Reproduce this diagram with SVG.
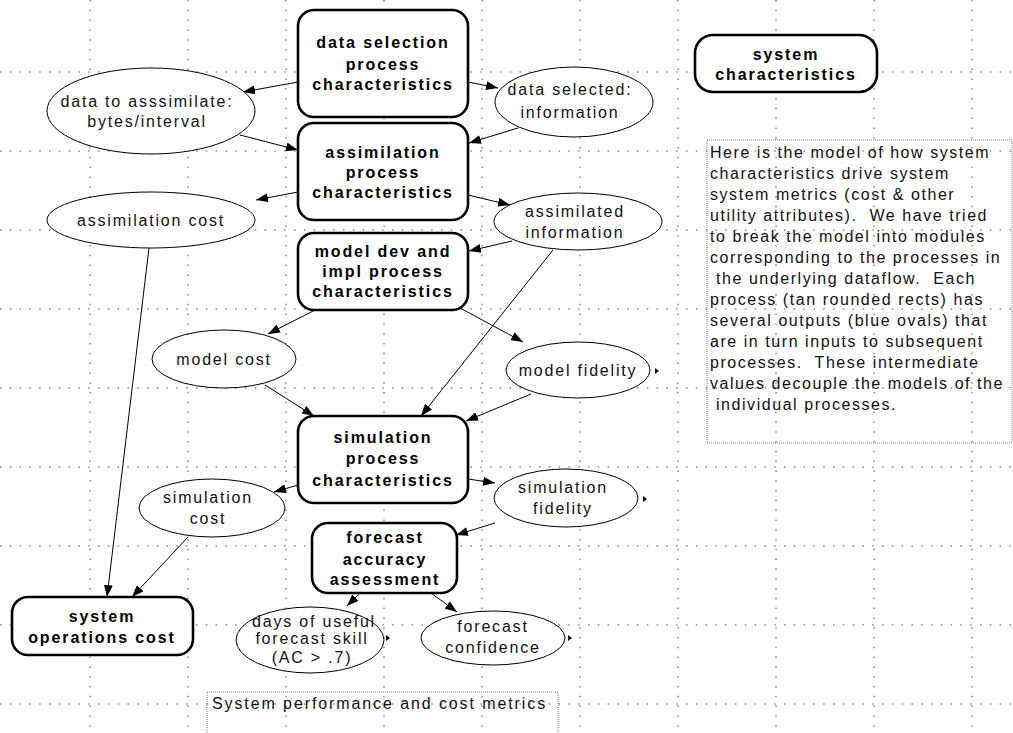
<svg xmlns="http://www.w3.org/2000/svg" width="1013" height="733" viewBox="0 0 1013 733">
<style>
.grid line{stroke:#8a8a8a;stroke-width:1.5;stroke-dasharray:1.5 8.3}
.proc rect{fill:#fff;stroke:#000;stroke-width:2.6}
.proc text{font-family:"Liberation Sans",Arial,sans-serif;font-weight:bold;font-size:16px;letter-spacing:1.9px;text-anchor:middle;fill:#000}
.oval ellipse{fill:#fff;stroke:#000;stroke-width:1}
.oval text{font-family:"Liberation Sans",Arial,sans-serif;font-size:16px;letter-spacing:1.8px;text-anchor:middle;fill:#111}
.oval polygon{fill:#000}
.note rect{fill:none;stroke:#777;stroke-width:1;stroke-dasharray:1 1}
.note text{font-family:"Liberation Sans",Arial,sans-serif;font-size:16px;letter-spacing:1.55px;fill:#111;white-space:pre}
.conn line{stroke:#000;stroke-width:1;marker-end:url(#arr)}
</style>
<defs>
<marker id="arr" markerUnits="userSpaceOnUse" markerWidth="13" markerHeight="9" refX="12" refY="4.5" orient="auto">
<path d="M0,0 L12,4.5 L0,9 z" fill="#000"/>
</marker>
</defs>
<rect width="1013" height="733" fill="#fff"/>
<g class="grid">
<line x1="90" y1="0" x2="90" y2="733"/>
<line x1="188" y1="0" x2="188" y2="733"/>
<line x1="286" y1="0" x2="286" y2="733"/>
<line x1="384" y1="0" x2="384" y2="733"/>
<line x1="482" y1="0" x2="482" y2="733"/>
<line x1="580" y1="0" x2="580" y2="733"/>
<line x1="678" y1="0" x2="678" y2="733"/>
<line x1="776" y1="0" x2="776" y2="733"/>
<line x1="874" y1="0" x2="874" y2="733"/>
<line x1="972" y1="0" x2="972" y2="733"/>
<line x1="0" y1="72" x2="1013" y2="72"/>
<line x1="0" y1="151" x2="1013" y2="151"/>
<line x1="0" y1="230" x2="1013" y2="230"/>
<line x1="0" y1="309" x2="1013" y2="309"/>
<line x1="0" y1="388" x2="1013" y2="388"/>
<line x1="0" y1="467" x2="1013" y2="467"/>
<line x1="0" y1="546" x2="1013" y2="546"/>
<line x1="0" y1="625" x2="1013" y2="625"/>
<line x1="0" y1="704" x2="1013" y2="704"/>
</g>
<g class="conn">
<line x1="298" y1="82" x2="243" y2="92"/>
<line x1="468" y1="82" x2="498" y2="88"/>
<line x1="240" y1="135" x2="298" y2="150"/>
<line x1="518" y1="128" x2="469" y2="143"/>
<line x1="298" y1="192" x2="256" y2="200"/>
<line x1="468" y1="195" x2="510" y2="205"/>
<line x1="512" y1="241" x2="469" y2="251"/>
<line x1="149" y1="248" x2="107" y2="597"/>
<line x1="188" y1="537" x2="132" y2="597"/>
<line x1="315" y1="310" x2="268" y2="334"/>
<line x1="460" y1="308" x2="523" y2="342"/>
<line x1="265" y1="385" x2="314" y2="416"/>
<line x1="553" y1="250" x2="421" y2="416"/>
<line x1="531" y1="394" x2="466" y2="421"/>
<line x1="298" y1="485" x2="274" y2="492"/>
<line x1="468" y1="479" x2="495" y2="483"/>
<line x1="495" y1="523" x2="456" y2="535"/>
<line x1="360" y1="593" x2="347" y2="606"/>
<line x1="431" y1="593" x2="457" y2="612"/>
</g>
<g id="data-selection" class="proc">
<rect x="298" y="10" width="170" height="107" rx="16"/>
<text x="383" y="48">data selection</text>
<text x="383" y="70">process</text>
<text x="383" y="90">characteristics</text>
</g>
<g id="assimilation" class="proc">
<rect x="298" y="123" width="170" height="97" rx="16"/>
<text x="383" y="158">assimilation</text>
<text x="383" y="178">process</text>
<text x="383" y="198">characteristics</text>
</g>
<g id="model-dev" class="proc">
<rect x="298" y="233" width="170" height="77" rx="16"/>
<text x="383" y="257">model dev and</text>
<text x="383" y="277">impl process</text>
<text x="383" y="297">characteristics</text>
</g>
<g id="simulation" class="proc">
<rect x="298" y="416" width="170" height="87" rx="16"/>
<text x="383" y="443">simulation</text>
<text x="383" y="464">process</text>
<text x="383" y="486">characteristics</text>
</g>
<g id="forecast-accuracy" class="proc">
<rect x="312" y="523" width="145" height="70" rx="16"/>
<text x="385" y="543">forecast</text>
<text x="385" y="565">accuracy</text>
<text x="385" y="585">assessment</text>
</g>
<g id="system-characteristics" class="proc">
<rect x="695" y="35" width="182" height="57" rx="18"/>
<text x="786" y="60">system</text>
<text x="786" y="80">characteristics</text>
</g>
<g id="system-operations-cost" class="proc">
<rect x="12" y="597" width="181" height="58" rx="16"/>
<text x="102" y="622">system</text>
<text x="102" y="643">operations cost</text>
</g>
<g id="data-to-assimilate" class="oval">
<ellipse cx="151" cy="111" rx="104" ry="43"/>
<text x="147" y="107">data to asssimilate:</text>
<text x="147" y="127">bytes/interval</text>
</g>
<g id="data-selected" class="oval">
<ellipse cx="574" cy="102" rx="79" ry="35"/>
<text x="570" y="95">data selected:</text>
<text x="570" y="118">information</text>
</g>
<g id="assimilated-information" class="oval">
<ellipse cx="578" cy="221.5" rx="84" ry="28.5"/>
<text x="575" y="217">assimilated</text>
<text x="575" y="238">information</text>
</g>
<g id="assimilation-cost" class="oval">
<ellipse cx="151" cy="220" rx="104" ry="28"/>
<text x="151" y="226">assimilation cost</text>
</g>
<g id="model-cost" class="oval">
<ellipse cx="224" cy="359" rx="72" ry="29"/>
<text x="224" y="365">model cost</text>
</g>
<g id="model-fidelity" class="oval">
<ellipse cx="578" cy="370" rx="72" ry="28"/>
<text x="578" y="376">model fidelity</text>
<polygon points="655,368 659,371 655,374"/>
</g>
<g id="simulation-fidelity" class="oval">
<ellipse cx="566" cy="498" rx="72" ry="29"/>
<text x="563" y="493">simulation</text>
<text x="563" y="514">fidelity</text>
<polygon points="643,496 647,499 643,502"/>
</g>
<g id="simulation-cost" class="oval">
<ellipse cx="212" cy="508" rx="73" ry="29"/>
<text x="208" y="503">simulation</text>
<text x="208" y="524">cost</text>
</g>
<g id="days-useful" class="oval">
<ellipse cx="310" cy="640" rx="74" ry="33"/>
<text x="314" y="627">days of useful</text>
<text x="312" y="644">forecast skill</text>
<text x="312" y="663">(AC &gt; .7)</text>
<polygon points="386,635 390,638 386,641"/>
</g>
<g id="forecast-confidence" class="oval">
<ellipse cx="493" cy="638" rx="72" ry="27"/>
<text x="493" y="632">forecast</text>
<text x="493" y="653">confidence</text>
<polygon points="568,635 572,638 568,641"/>
</g>
<g id="description" class="note">
<rect x="707" y="140" width="305" height="303"/>
<text x="710" y="158">Here is the model of how system</text>
<text x="710" y="179">characteristics drive system</text>
<text x="710" y="200">system metrics (cost &amp; other</text>
<text x="710" y="221">utility attributes).  We have tried</text>
<text x="710" y="242">to break the model into modules</text>
<text x="710" y="263">corresponding to the processes in</text>
<text x="710" y="284"> the underlying dataflow.  Each</text>
<text x="710" y="305">process (tan rounded rects) has</text>
<text x="710" y="326">several outputs (blue ovals) that</text>
<text x="710" y="347">are in turn inputs to subsequent</text>
<text x="710" y="368">processes.  These intermediate</text>
<text x="710" y="389">values decouple the models of the</text>
<text x="710" y="410"> individual processes.</text>
</g>
<g id="metrics-note" class="note">
<rect x="207" y="692" width="351" height="50"/>
<text x="212" y="709" style="letter-spacing:1.9px">System performance and cost metrics</text>
</g>
</svg>
